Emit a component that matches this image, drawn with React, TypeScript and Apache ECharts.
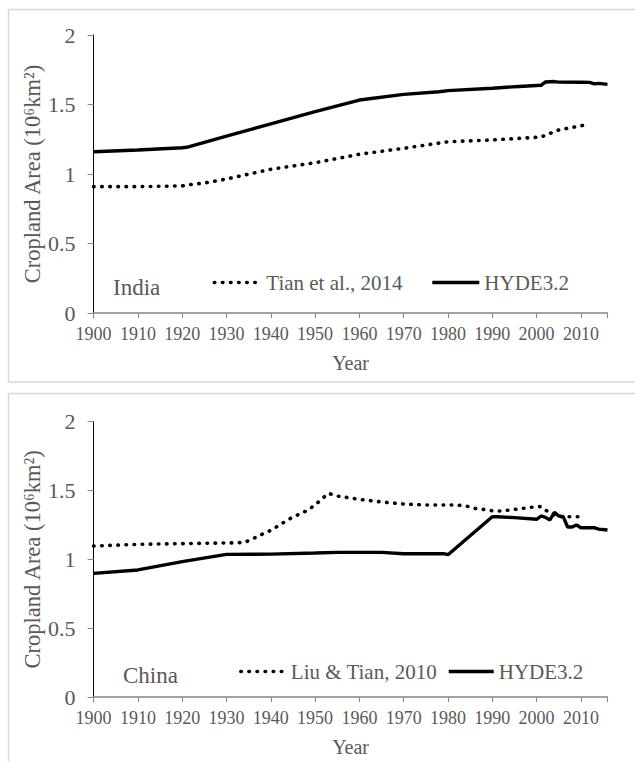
import React, { useEffect, useRef } from 'react';
import * as echarts from 'echarts';

const indiaTianYears = [1900, 1910, 1920, 1921, 1925, 1930, 1940, 1950, 1960, 1970, 1980, 1990, 2000, 2001, 2005, 2011];
const indiaTianValues = [0.909, 0.909, 0.914, 0.921, 0.935, 0.964, 1.034, 1.081, 1.142, 1.185, 1.232, 1.245, 1.264, 1.266, 1.317, 1.353];

const indiaHydeYears = [1900, 1910, 1920, 1921, 1930, 1940, 1950, 1960, 1970, 1978, 1980, 1990, 1996, 2000, 2001, 2002, 2003, 2004, 2005, 2010, 2012, 2013, 2014, 2016];
const indiaHydeValues = [1.16, 1.173, 1.189, 1.192, 1.273, 1.36, 1.448, 1.532, 1.573, 1.592, 1.6, 1.617, 1.63, 1.637, 1.638, 1.662, 1.664, 1.665, 1.661, 1.66, 1.659, 1.648, 1.652, 1.645];

const chinaLiuYears = [1900, 1910, 1920, 1930, 1934, 1936, 1938, 1940, 1942, 1944, 1946, 1948, 1950, 1951, 1953, 1955, 1960, 1965, 1970, 1975, 1982, 1984, 1986, 1988, 1990, 1992, 1995, 2000, 2001, 2002, 2004, 2005, 2011];
const chinaLiuValues = [1.097, 1.109, 1.114, 1.119, 1.122, 1.15, 1.182, 1.21, 1.25, 1.29, 1.322, 1.351, 1.395, 1.424, 1.48, 1.46, 1.436, 1.417, 1.402, 1.395, 1.395, 1.388, 1.371, 1.363, 1.353, 1.351, 1.363, 1.383, 1.383, 1.358, 1.322, 1.31, 1.31];

const chinaHydeYears = [1900, 1910, 1920, 1930, 1940, 1950, 1955, 1965, 1970, 1979, 1980, 1990, 1991, 1995, 2000, 2001, 2002, 2003, 2004, 2005, 2006, 2007, 2008, 2009, 2010, 2013, 2014, 2016];
const chinaHydeValues = [0.898, 0.923, 0.983, 1.036, 1.038, 1.046, 1.051, 1.051, 1.041, 1.041, 1.034, 1.31, 1.31, 1.303, 1.291, 1.315, 1.305, 1.286, 1.342, 1.315, 1.31, 1.235, 1.235, 1.25, 1.23, 1.23, 1.22, 1.213];

const xTickLabels = ['1900', '1910', '1920', '1930', '1940', '1950', '1960', '1970', '1980', '1990', '2000', '2010'];

const FONT = '"Liberation Serif", "Times New Roman", serif';
const GRAY = '#595959';

const pairs = (xs: number[], ys: number[]) => xs.map((x, i) => [x, ys[i]]);

const makeX = (gridIndex: number) => ({
  type: 'value',
  gridIndex,
  min: 1900,
  max: 2016,
  interval: 10,
  axisLine: { show: true, lineStyle: { color: '#868686', width: 1.5 } },
  axisTick: { show: true, length: 5, lineStyle: { color: '#868686', width: 1 } },
  axisLabel: {
    color: GRAY,
    fontFamily: FONT,
    fontSize: 18,
    margin: 12,
    formatter: (v: number) => (xTickLabels.indexOf(String(v)) >= 0 ? String(v) : ''),
  },
  splitLine: { show: false },
  name: 'Year',
  nameLocation: 'middle',
  nameGap: 40,
  nameMoveOverlap: false,
  nameTextStyle: { color: GRAY, fontFamily: FONT, fontSize: 20 },
});

const makeY = (gridIndex: number) => ({
  type: 'value',
  gridIndex,
  min: 0,
  max: 2,
  interval: 0.5,
  axisLine: { show: true, lineStyle: { color: '#000000', width: 1 } },
  axisTick: { show: true, length: 6, lineStyle: { color: '#868686', width: 1 } },
  axisLabel: { color: GRAY, fontFamily: FONT, fontSize: 22, margin: 18 },
  splitLine: { show: false },
  name: 'Cropland Area (10⁶km²)',
  nameLocation: 'middle',
  nameRotate: 90,
  nameGap: 50,
  nameMoveOverlap: false,
  nameTextStyle: { color: GRAY, fontFamily: FONT, fontSize: 22.5 },
});

const dotted = { color: '#000000', width: 3.6, type: [0.5, 7.6], cap: 'round' };
const solid = { color: '#000000', width: 3.4, type: 'solid' };

export default function App() {
  const ref = useRef<HTMLDivElement>(null);
  useEffect(() => {
    if (!ref.current) return;
    const chart = echarts.init(ref.current, undefined, { renderer: 'svg' });
    const legendText = { color: GRAY, fontFamily: FONT, fontSize: 21 };
    const hiddenSymbol = { color: 'rgba(0,0,0,0)', borderWidth: 0, opacity: 0 };
    const dotItem = (name: string) => ({ name, lineStyle: { ...dotted }, itemStyle: hiddenSymbol });
    const solidItem = (name: string) => ({ name, lineStyle: { ...solid }, itemStyle: hiddenSymbol });
    chart.setOption({
      animation: false,
      backgroundColor: '#ffffff',
      grid: [
        { left: 93.6, right: 27.5, top: 35, bottom: 448 },
        { left: 93.6, right: 27.5, top: 421.7, bottom: 64 },
      ],
      xAxis: [makeX(0), makeX(1)],
      yAxis: [makeY(0), makeY(1)],
      legend: [
        {
          data: [dotItem('Tian et al., 2014'), solidItem('HYDE3.2')],
          left: 207.5,
          top: 267,
          itemWidth: 47,
          itemHeight: 14,
          itemGap: 28,
          selectedMode: false,
          itemStyle: hiddenSymbol,
          textStyle: legendText,
        },
        {
          data: [dotItem('Liu & Tian, 2010'), solidItem('HYDE3.2')],
          left: 234,
          top: 656,
          itemWidth: 45,
          itemHeight: 14,
          itemGap: 10,
          selectedMode: false,
          itemStyle: hiddenSymbol,
          textStyle: legendText,
        },
      ],
      graphic: [
        {
          type: 'rect',
          silent: true,
          shape: { x: 8.5, y: 9.5, width: 640, height: 372.5 },
          style: { fill: 'none', stroke: '#d9d9d9', lineWidth: 1.5 },
        },
        {
          type: 'rect',
          silent: true,
          shape: { x: 8.5, y: 393.5, width: 640, height: 420 },
          style: { fill: 'none', stroke: '#d9d9d9', lineWidth: 1.5 },
        },
        {
          type: 'text',
          x: 113,
          y: 287,
          style: { text: 'India', fill: GRAY, fontFamily: FONT, fontSize: 23, verticalAlign: 'middle', align: 'left' },
        },
        {
          type: 'text',
          x: 123,
          y: 675,
          style: { text: 'China', fill: GRAY, fontFamily: FONT, fontSize: 23, verticalAlign: 'middle', align: 'left' },
        },
      ],
      series: [
        {
          name: 'Tian et al., 2014',
          type: 'line',
          xAxisIndex: 0,
          yAxisIndex: 0,
          symbol: 'none',
          lineStyle: dotted,
          itemStyle: { color: '#000000' },
          data: pairs(indiaTianYears, indiaTianValues),
        },
        {
          name: 'HYDE3.2',
          type: 'line',
          xAxisIndex: 0,
          yAxisIndex: 0,
          symbol: 'none',
          lineStyle: solid,
          itemStyle: { color: '#000000' },
          data: pairs(indiaHydeYears, indiaHydeValues),
        },
        {
          name: 'Liu & Tian, 2010',
          type: 'line',
          xAxisIndex: 1,
          yAxisIndex: 1,
          symbol: 'none',
          lineStyle: dotted,
          itemStyle: { color: '#000000' },
          data: pairs(chinaLiuYears, chinaLiuValues),
        },
        {
          name: 'HYDE3.2',
          type: 'line',
          xAxisIndex: 1,
          yAxisIndex: 1,
          symbol: 'none',
          lineStyle: solid,
          itemStyle: { color: '#000000' },
          data: pairs(chinaHydeYears, chinaHydeValues),
        },
      ],
    });
    return () => chart.dispose();
  }, []);
  return (
    <div
      ref={ref}
      style={{ position: 'absolute', left: 0, top: 0, width: 635, height: 761, background: '#ffffff' }}
    />
  );
}
